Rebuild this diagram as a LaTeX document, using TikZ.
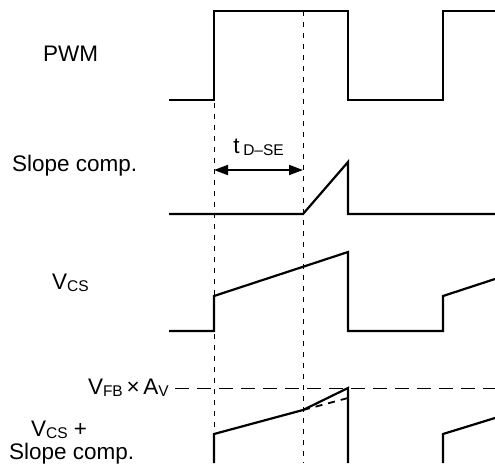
\documentclass[tikz,border=0pt]{standalone}
\usepackage{fontspec}
\setmainfont{Liberation Sans}
\usetikzlibrary{arrows.meta, positioning, calc}
\newcommand{\lsub}[1]{\raisebox{-0.2ex}{\fontsize{15.5}{18}\selectfont #1}}
\tikzset{
  wave/.style={line width=2.2pt, line join=miter},
  guide/.style={line width=0.9pt, dash pattern=on 5pt off 6pt},
  refline/.style={line width=0.9pt, dash pattern=on 14pt off 8pt},
  sig/.style={font=\fontsize{22.5}{26}\selectfont, inner sep=0pt}
}

\begin{document}
\begin{tikzpicture}[x=1pt, y=-1pt]
  \useasboundingbox (0,0) rectangle (495,463);
  \node[sig, anchor=west] (pwm) at (43,54) {PWM};
  \node[sig, anchor=west] (slope) at (12,166) {Slope comp.};
  \node[sig, anchor=west] (vcs) at (52,283) {V\lsub{CS}};
  \node[sig, anchor=east] (vfb) at (169,388) {V\lsub{FB}\,×\,A\lsub{V}};
  \node[sig, anchor=west] (sum) at (31,430) {V\lsub{CS} +};
  \node[sig, anchor=west] (slopetwo) at (9,454) {Slope comp.};

  \draw[guide] (214,103) -- (214,463);
  \draw[guide] (303,11) -- (303,463);
  \coordinate (ta) at (214,170);
  \coordinate (tb) at (303,170);
  \draw[line width=1.8pt, {Triangle[length=14pt,width=10pt]}-{Triangle[length=14pt,width=10pt]}] (ta) -- (tb);
  \node[sig, anchor=south, inner sep=4pt] (tdse) at ($(ta)!0.5!(tb)+(0,-10)$) {t\,\lsub{D–SE}};

  \draw[wave] (169,100) -- (214,100) -- (214,11) -- (348,11) -- (348,100) -- (443,100) -- (443,11) -- (495,11);
  \draw[wave] (169,214) -- (303,214) -- (348,162) -- (348,214) -- (495,214);
  \draw[wave] (169,331) -- (214,331) -- (214,296) -- (348,252) -- (348,331) -- (443,331) -- (443,296) -- (495,279);

  \draw[refline] (175,388) -- (495,388);
  \draw[wave] (214,463) -- (214,434) -- (303,410) -- (348,388) -- (348,463);
  \draw[line width=1.8pt, dash pattern=on 7pt off 6pt] (303,410) -- (348,398);
  \draw[wave] (443,463) -- (443,434) -- (495,418);
\end{tikzpicture}
\end{document}
